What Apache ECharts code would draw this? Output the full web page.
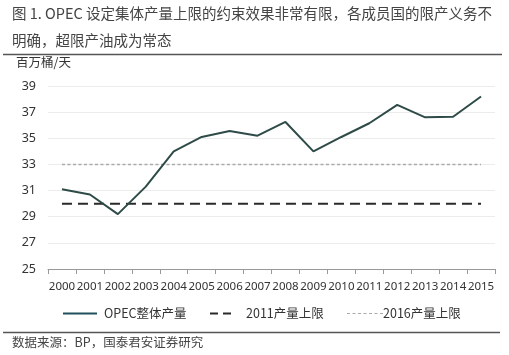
<!DOCTYPE html>
<html><head><meta charset="utf-8">
<script src="https://cdn.jsdelivr.net/npm/echarts@6/dist/echarts.min.js"></script>
<style>html,body{margin:0;padding:0;background:#fff}#c{width:509px;height:355px}</style>
</head><body><div id="c"></div>
<script>
var years = ['2000','2001','2002','2003','2004','2005','2006','2007','2008','2009','2010','2011','2012','2013','2014','2015'];
var opecOutput = [31.1,30.7,29.2,31.3,34.0,35.1,35.55,35.2,36.25,34.0,35.1,36.15,37.55,36.6,36.65,38.2];
var cap2011 = [30,30,30,30,30,30,30,30,30,30,30,30,30,30,30,30];
var cap2016 = [33,33,33,33,33,33,33,33,33,33,33,33,33,33,33,33];
var seriesNames = ['OPEC整体产量','2011产量上限','2016产量上限'];
var yTicks = {min:25, max:39, interval:2};

var FONT = '"Noto Sans CJK SC","Noto Sans",sans-serif';
var C1 = '#2e4b48', C2 = '#2a2a2a', C3 = '#aaaaaa';
var chart = echarts.init(document.getElementById('c'), null, {renderer:'canvas'});
var LY = 313.5;
chart.setOption({
  animation:false,
  textStyle:{fontFamily:FONT},
  grid:{left:48, right:14, top:86, bottom:86, containLabel:false},
  xAxis:{type:'category', data:years, boundaryGap:true,
    axisLine:{lineStyle:{color:'#999', width:1}},
    axisTick:{show:true, length:5, lineStyle:{color:'#999'}},
    axisLabel:{interval:0, color:'#333', fontSize:11.5, margin:12, fontFamily:'"Noto Sans",sans-serif'}
  },
  yAxis:{type:'value', min:yTicks.min, max:yTicks.max, interval:yTicks.interval,
    axisLine:{show:false}, axisTick:{show:false},
    splitLine:{lineStyle:{color:'#ececec', width:1}},
    axisLabel:{color:'#333', fontSize:12.5, margin:12, fontFamily:'"Noto Sans",sans-serif'}
  },
  series:[
    {name:seriesNames[0], type:'line', data:opecOutput, symbol:'none',
      lineStyle:{color:C1, width:2}, z:3},
    {name:seriesNames[1], type:'line', data:cap2011, symbol:'none',
      lineStyle:{color:C2, width:2, type:[10,6]}, z:2},
    {name:seriesNames[2], type:'line', data:cap2016, symbol:'none',
      lineStyle:{color:C3, width:1.5, type:[3,2.5]}, z:2}
  ],
  graphic:[
    {type:'text', left:12, top:6, style:{text:'图 1. OPEC 设定集体产量上限的约束效果非常有限，各成员国的限产义务不', fontSize:14.5, fill:'#444', fontFamily:FONT}},
    {type:'text', left:12, top:33, style:{text:'明确，超限产油成为常态', fontSize:14.5, fill:'#444', fontFamily:FONT}},
    {type:'line', shape:{x1:3, y1:54.5, x2:502, y2:54.5}, style:{stroke:'#555', lineWidth:1.5}},
    {type:'text', left:16, top:56, style:{text:'百万桶/天', fontSize:12.5, fill:'#333', fontFamily:FONT}},
    {type:'line', shape:{x1:63, y1:LY, x2:97, y2:LY}, style:{stroke:'#1f4f5a', lineWidth:2}},
    {type:'text', x:104, y:LY, style:{text:seriesNames[0], fontSize:12.5, fill:'#333', fontFamily:FONT, verticalAlign:'middle'}},
    {type:'line', shape:{x1:210, y1:LY, x2:231, y2:LY}, style:{stroke:C2, lineWidth:2, lineDash:[8,5]}},
    {type:'text', x:246, y:LY, style:{text:seriesNames[1], fontSize:12.5, fill:'#333', fontFamily:FONT, verticalAlign:'middle'}},
    {type:'line', shape:{x1:347, y1:LY, x2:383, y2:LY}, style:{stroke:C3, lineWidth:1.2, lineDash:[3,2.5]}},
    {type:'text', x:383, y:LY, style:{text:seriesNames[2], fontSize:12.5, fill:'#333', fontFamily:FONT, verticalAlign:'middle'}},
    {type:'line', shape:{x1:3, y1:332.5, x2:500, y2:332.5}, style:{stroke:'#555', lineWidth:1.5}},
    {type:'text', left:12, top:336, style:{text:'数据来源：BP，国泰君安证券研究', fontSize:12.5, fill:'#444', fontFamily:FONT}}
  ]
});
</script></body></html>
